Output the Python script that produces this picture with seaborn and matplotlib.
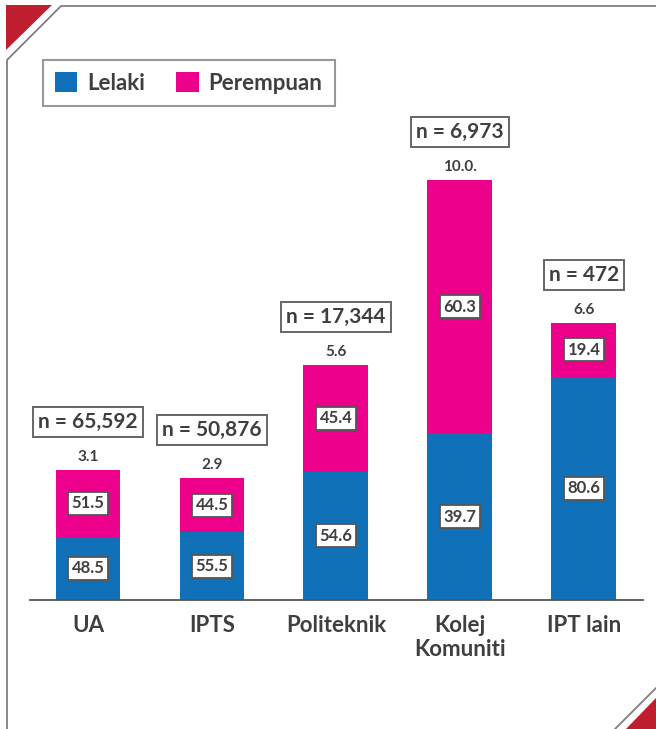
import matplotlib
matplotlib.use("Agg")
import matplotlib.pyplot as plt
import seaborn as sns
import pandas as pd
from matplotlib.patches import Polygon, Patch
from matplotlib.lines import Line2D

categories = ["UA", "IPTS", "Politeknik", "Kolej\nKomuniti", "IPT lain"]
totals = [3.1, 2.9, 5.6, 10.0, 6.6]
total_labels = ["3.1", "2.9", "5.6", "10.0.", "6.6"]
lelaki = [48.5, 55.5, 54.6, 39.7, 80.6]
perempuan = [51.5, 44.5, 45.4, 60.3, 19.4]
n_labels = ["n = 65,592", "n = 50,876", "n = 17,344", "n = 6,973", "n = 472"]
series_names = ["Lelaki", "Perempuan"]

BLUE = "#1071B9"
PINK = "#EC008C"
RED = "#BE1E2D"
TXT = "#3F3F3F"
GRAY = "#7F7F7F"

sns.set_theme(style="white")
plt.rcParams["font.family"] = ["Lato", "DejaVu Sans"]

W, H = 656, 729
fig = plt.figure(figsize=(W / 100, H / 100), dpi=100)

def fx(px):
    return px / W

def fy(py):
    return 1 - py / H

ax = fig.add_axes([fx(30), fy(600), fx(613), 420 / H])

df = pd.DataFrame({
    "cat": categories,
    "total": totals,
    "blue": [t * l / 100 for t, l in zip(totals, lelaki)],
})

sns.barplot(data=df, x="cat", y="total", color=PINK, saturation=1, width=0.524, ax=ax, linewidth=0)
sns.barplot(data=df, x="cat", y="blue", color=BLUE, saturation=1, width=0.524, ax=ax, linewidth=0)

ax.set_xlim(-0.4677, 4.476)
ax.set_ylim(0, 10)
ax.set_xlabel("")
ax.set_ylabel("")
ax.set_yticks([])
for s in ["top", "right", "left"]:
    ax.spines[s].set_visible(False)
ax.spines["bottom"].set_color("#555555")
ax.spines["bottom"].set_linewidth(1.3)
ax.tick_params(axis="x", length=0, pad=11)
for lab in ax.get_xticklabels():
    lab.set_fontsize(16)
    lab.set_fontweight("bold")
    lab.set_color(TXT)
    lab.set_linespacing(1.15)

inner_box = dict(boxstyle="square,pad=0.22", fc="white", ec="#555555", lw=1.3)
for i in range(len(categories)):
    t = totals[i]
    b = df["blue"][i]
    ax.text(i, b / 2, f"{lelaki[i]}", ha="center", va="center", fontsize=12,
            fontweight="bold", color=TXT, bbox=inner_box)
    ax.text(i, b + (t - b) / 2, f"{perempuan[i]}", ha="center", va="center", fontsize=12,
            fontweight="bold", color=TXT, bbox=inner_box)
    ax.annotate(total_labels[i], (i, t), xytext=(0, 9.5), textcoords="offset points",
                ha="center", va="center", fontsize=11, fontweight="bold", color=TXT,
                annotation_clip=False)
    ax.annotate(n_labels[i], (i, t), xytext=(0, 34.5), textcoords="offset points",
                ha="center", va="center", fontsize=15, fontweight="bold", color=TXT,
                annotation_clip=False,
                bbox=dict(boxstyle="square,pad=0.25", fc="white", ec="#666666", lw=1.4))

handles = [Patch(facecolor=BLUE, edgecolor="none"), Patch(facecolor=PINK, edgecolor="none")]
leg = fig.legend(handles, series_names, loc="upper left", bbox_to_anchor=(fx(43), fy(60)),
                 ncol=2, frameon=True, fancybox=False, handlelength=1.0, handleheight=1.0,
                 handletextpad=0.45, columnspacing=1.4, borderpad=0.55, borderaxespad=0,
                 prop={"weight": "bold", "size": 16})
leg.get_frame().set_edgecolor(GRAY)
leg.get_frame().set_linewidth(1.5)
for t in leg.get_texts():
    t.set_color(TXT)

# decorative frame
fig.add_artist(Line2D([fx(656), fx(61), fx(7), fx(7)], [fy(6), fy(6), fy(60), fy(729)],
                      color=GRAY, lw=1.3, transform=fig.transFigure))
fig.add_artist(Line2D([fx(656), fx(615)], [fy(688), fy(729)],
                      color=GRAY, lw=1.3, transform=fig.transFigure))
fig.add_artist(Polygon([[fx(6), fy(5)], [fx(52), fy(5)], [fx(6), fy(50)]], closed=True,
                       fc=RED, ec="none", transform=fig.transFigure))
fig.add_artist(Polygon([[fx(656), fy(698)], [fx(656), fy(729)], [fx(626), fy(729)]], closed=True,
                       fc=RED, ec="none", transform=fig.transFigure))

fig.savefig("out.png", dpi=100, facecolor="white")
